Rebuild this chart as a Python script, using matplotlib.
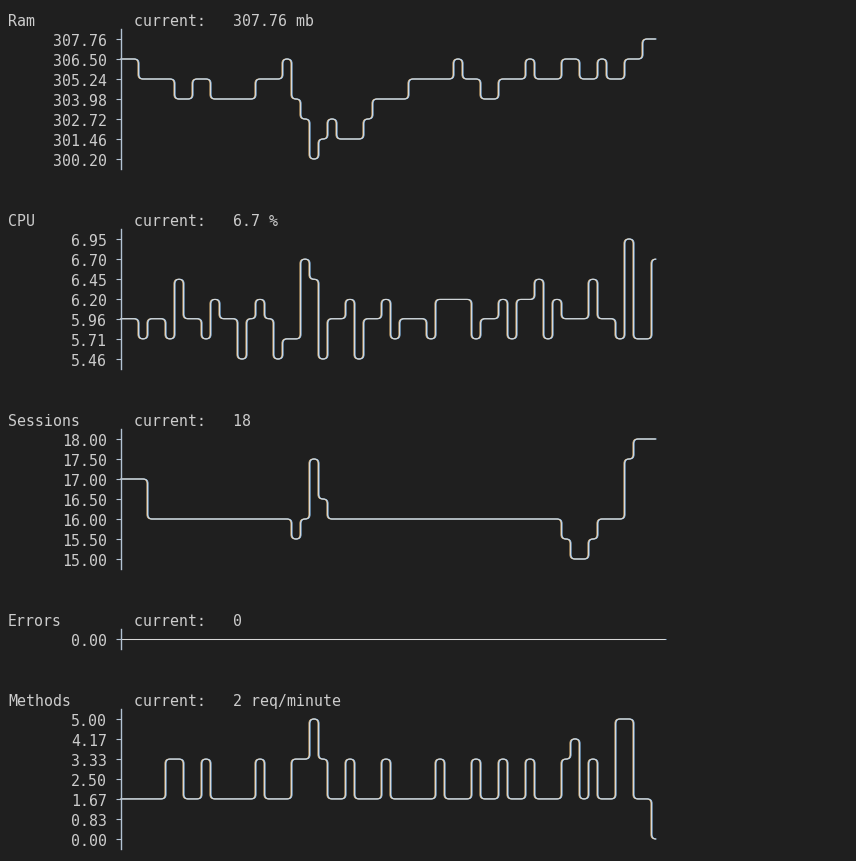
import numpy as np
import matplotlib
matplotlib.use('Agg')
import matplotlib.pyplot as plt
import matplotlib.transforms as mtransforms
from matplotlib.path import Path
from matplotlib.patches import PathPatch

# ---- data (values already snapped to the chart rows) ----
ram_ticks = [300.20, 301.46, 302.72, 303.98, 305.24, 306.50, 307.76]
ram = [306.50, 306.50, 305.24, 305.24, 305.24, 305.24, 303.98, 303.98, 305.24, 305.24,
       303.98, 303.98, 303.98, 303.98, 303.98, 305.24, 305.24, 305.24, 306.50, 303.98,
       302.72, 300.20, 301.46, 302.72, 301.46, 301.46, 301.46, 302.72, 303.98, 303.98,
       303.98, 303.98, 305.24, 305.24, 305.24, 305.24, 305.24, 306.50, 305.24, 305.24,
       303.98, 303.98, 305.24, 305.24, 305.24, 306.50, 305.24, 305.24, 305.24, 306.50,
       306.50, 305.24, 305.24, 306.50, 305.24, 305.24, 306.50, 306.50, 307.76, 307.76]

cpu_ticks = [5.46, 5.71, 5.96, 6.20, 6.45, 6.70, 6.95]
cpu = [5.96, 5.96, 5.71, 5.96, 5.96, 5.71, 6.45, 5.96, 5.96, 5.71,
       6.20, 5.96, 5.96, 5.46, 5.96, 6.20, 5.96, 5.46, 5.71, 5.71,
       6.70, 6.45, 5.46, 5.96, 5.96, 6.20, 5.46, 5.96, 5.96, 6.20,
       5.71, 5.96, 5.96, 5.96, 5.71, 6.20, 6.20, 6.20, 6.20, 5.71,
       5.96, 5.96, 6.20, 5.71, 6.20, 6.20, 6.45, 5.71, 6.20, 5.96,
       5.96, 5.96, 6.45, 5.96, 5.96, 5.71, 6.95, 5.71, 5.71, 6.70]

sess_ticks = [15.00, 15.50, 16.00, 16.50, 17.00, 17.50, 18.00]
sessions = [17, 17, 17, 16, 16, 16, 16, 16, 16, 16,
            16, 16, 16, 16, 16, 16, 16, 16, 16, 15.5,
            16, 17.5, 16.5, 16, 16, 16, 16, 16, 16, 16,
            16, 16, 16, 16, 16, 16, 16, 16, 16, 16,
            16, 16, 16, 16, 16, 16, 16, 16, 16, 15.5,
            15, 15, 15.5, 16, 16, 16, 17.5, 18, 18, 18]

err_ticks = [0.00]
errors = [0, 0, 0, 0, 0, 0, 0, 0, 0, 0, 0, 0, 0, 0, 0, 0, 0, 0, 0, 0, 0,
          0, 0, 0, 0, 0, 0, 0, 0, 0, 0, 0, 0, 0, 0, 0, 0, 0, 0, 0, 0,
          0, 0, 0, 0, 0, 0, 0, 0, 0, 0, 0, 0, 0, 0, 0, 0, 0, 0, 0, 0]

meth_ticks = [0.00, 0.83, 1.67, 2.50, 3.33, 4.17, 5.00]
methods = [1.67, 1.67, 1.67, 1.67, 1.67, 3.33, 3.33, 1.67, 1.67, 3.33,
           1.67, 1.67, 1.67, 1.67, 1.67, 3.33, 1.67, 1.67, 1.67, 3.33,
           3.33, 5.00, 3.33, 1.67, 1.67, 3.33, 1.67, 1.67, 1.67, 3.33,
           1.67, 1.67, 1.67, 1.67, 1.67, 3.33, 1.67, 1.67, 1.67, 3.33,
           1.67, 1.67, 3.33, 1.67, 1.67, 3.33, 1.67, 1.67, 1.67, 3.33,
           4.17, 1.67, 3.33, 1.67, 1.67, 5.00, 5.00, 1.67, 1.67, 0.00]

names = ['Ram', 'CPU', 'Sessions', 'Errors', 'Methods']
currents = ['307.76 mb', '6.7 %', '18', '0', '2 req/minute']

#~~~~~~~~~~~~~~~~~~~~~~~~~~~~~~~~~~~~~~~~~~~~~~~~~~~~~~~~~~~~~~~~~~~~~~~~#
W, H = 856, 862
BG = '#1f1f1f'
FG = '#cccccc'
CW, RH = 9.0, 20.0      # terminal cell width / row height in px
X0 = 120.5              # axis column centre

plt.rcParams['font.family'] = ['DejaVu Sans Mono']
plt.rcParams['font.size'] = 10.76

fig = plt.figure(figsize=(W / 100, H / 100), dpi=100, facecolor=BG)


def step_path(vals, step):
    # asciigraph style: one column per transition, rounded corners
    rx, ry = 0.48, 0.23 * step
    verts = [(0, vals[0])]
    codes = [Path.MOVETO]
    for k in range(1, len(vals)):
        a, b = vals[k - 1], vals[k]
        if a == b:
            continue
        s = 1 if b > a else -1
        verts += [(k - rx, a), (k, a), (k, a + s * ry),
                  (k, b - s * ry), (k, b), (k + rx, b)]
        codes += [Path.LINETO, Path.CURVE3, Path.CURVE3,
                  Path.LINETO, Path.CURVE3, Path.CURVE3]
    verts.append((len(vals) - 0.5, vals[-1]))
    codes.append(Path.LINETO)
    return Path(verts, codes)


def chart(top, ticks, vals, name, cur, cross=None):
    nrow = len(ticks)
    step = (ticks[-1] - ticks[0]) / (nrow - 1) if nrow > 1 else 1.0
    ybot = top + (nrow - 1) * RH + RH / 2
    ax = fig.add_axes([X0 / W, 1 - ybot / H, 61 * CW / W, nrow * RH / H])
    ax.set_facecolor('none')
    ax.set_xlim(0, 61)
    ax.set_ylim(ticks[0] - step / 2, ticks[-1] + step / 2)
    for s in ['top', 'right', 'bottom']:
        ax.spines[s].set_visible(False)
    ax.spines['left'].set_color('#b2c2d2')
    ax.spines['left'].set_linewidth(1.0)
    ax.set_xticks([])
    ax.set_yticks(ticks)
    ax.set_yticklabels(['%.2f' % t for t in ticks])
    ax.tick_params(axis='y', direction='out', length=3.3, width=0.8,
                   color='#b2c2d2', labelcolor=FG, pad=6.6)
    if cross is not None:
        ax.set_yticks([cross], minor=True)
        ax.tick_params(axis='y', which='minor', direction='inout', length=6.6,
                       width=0.8, color='#b2c2d2')

    path = step_path(vals, step)
    for dx, col, lw in [(-0.6, '#c9a66e', 0.75), (0.6, '#86b8e6', 0.75), (0, '#d8d8d8', 0.72)]:
        tr = mtransforms.offset_copy(ax.transData, fig=fig, x=dx, y=0, units='dots')
        ax.add_patch(PathPatch(path, fill=False, ec=col, lw=lw, transform=tr,
                               capstyle='butt', joinstyle='round', clip_on=False))

    ty = top - RH
    fig.text(8 / W, 1 - ty / H, name, color=FG, va='center_baseline', ha='left')
    fig.text(134 / W, 1 - ty / H, 'current:   ' + cur, color=FG,
             va='center_baseline', ha='left')
    return ax


chart(40, ram_ticks, ram, names[0], currents[0])
chart(240, cpu_ticks, cpu, names[1], currents[1])
chart(440, sess_ticks, sessions, names[2], currents[2])
chart(640, err_ticks, errors, names[3], currents[3])
chart(720, meth_ticks, methods, names[4], currents[4], cross=5.00)

plt.savefig('out.png', dpi=100, facecolor=BG)
